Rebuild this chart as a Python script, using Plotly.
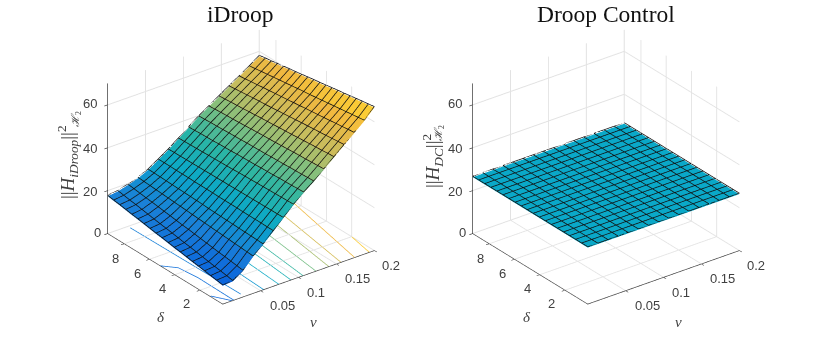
import plotly.graph_objects as go

nu_vals = [0.0, 0.0133, 0.0267, 0.04, 0.0533, 0.0667, 0.08, 0.0933, 0.1067, 0.12, 0.1333, 0.1467, 0.16, 0.1733, 0.1867, 0.2]
delta_vals = [0.2, 0.68, 1.16, 1.64, 2.12, 2.6, 3.08, 3.56, 4.04, 4.52, 5.0, 5.48, 5.96, 6.44, 6.92, 7.4, 7.88, 8.36, 8.84, 9.32]

# one row per delta, one column per nu
h_idroop = [
    [8.5, 8.9, 12.0, 17.0, 21.0, 25.5, 30.0, 34.5, 38.5, 42.0, 46.0, 50.0, 54.0, 58.0, 62.0, 66.7],
    [9.0, 9.4, 12.4, 17.2, 21.1, 25.5, 29.9, 34.4, 38.4, 41.9, 45.8, 49.8, 53.7, 57.7, 61.6, 66.2],
    [9.4, 9.9, 12.8, 17.4, 21.2, 25.6, 29.9, 34.3, 38.2, 41.7, 45.6, 49.5, 53.4, 57.3, 61.2, 65.8],
    [9.9, 10.3, 13.2, 17.6, 21.3, 25.6, 29.8, 34.2, 38.1, 41.6, 45.4, 49.3, 53.1, 57.0, 60.8, 65.3],
    [10.4, 10.8, 13.5, 17.8, 21.4, 25.6, 29.8, 34.1, 38.0, 41.5, 45.3, 49.1, 52.8, 56.6, 60.4, 64.8],
    [10.8, 11.3, 13.9, 18.0, 21.5, 25.6, 29.7, 34.0, 37.8, 41.3, 45.1, 48.8, 52.6, 56.3, 60.0, 64.3],
    [11.3, 11.8, 14.3, 18.2, 21.6, 25.7, 29.7, 33.9, 37.7, 41.2, 44.9, 48.6, 52.3, 55.9, 59.6, 63.9],
    [11.8, 12.3, 14.7, 18.4, 21.7, 25.7, 29.6, 33.8, 37.6, 41.1, 44.7, 48.3, 52.0, 55.6, 59.2, 63.4],
    [12.2, 12.7, 15.1, 18.6, 21.8, 25.7, 29.6, 33.7, 37.4, 40.9, 44.5, 48.1, 51.7, 55.3, 58.8, 62.9],
    [12.7, 13.2, 15.5, 18.8, 21.9, 25.7, 29.5, 33.6, 37.3, 40.8, 44.3, 47.9, 51.4, 54.9, 58.4, 62.4],
    [13.2, 13.7, 15.8, 19.0, 22.1, 25.8, 29.5, 33.4, 37.2, 40.7, 44.2, 47.6, 51.1, 54.6, 58.1, 62.0],
    [13.6, 14.2, 16.2, 19.2, 22.2, 25.8, 29.4, 33.3, 37.1, 40.6, 44.0, 47.4, 50.8, 54.2, 57.7, 61.5],
    [14.1, 14.6, 16.6, 19.4, 22.3, 25.8, 29.4, 33.2, 36.9, 40.4, 43.8, 47.2, 50.5, 53.9, 57.3, 61.0],
    [14.6, 15.1, 17.0, 19.6, 22.4, 25.8, 29.3, 33.1, 36.8, 40.3, 43.6, 46.9, 50.2, 53.6, 56.9, 60.5],
    [15.1, 15.6, 17.4, 19.8, 22.5, 25.9, 29.3, 33.0, 36.7, 40.2, 43.4, 46.7, 50.0, 53.2, 56.5, 60.1],
    [15.5, 16.1, 17.8, 20.0, 22.6, 25.9, 29.2, 32.9, 36.5, 40.0, 43.2, 46.4, 49.7, 52.9, 56.1, 59.6],
    [16.0, 16.6, 18.1, 20.2, 22.7, 25.9, 29.2, 32.8, 36.4, 39.9, 43.1, 46.2, 49.4, 52.5, 55.7, 59.1],
    [16.5, 17.0, 18.5, 20.4, 22.8, 26.0, 29.1, 32.7, 36.3, 39.8, 42.9, 46.0, 49.1, 52.2, 55.3, 58.6],
    [16.9, 17.5, 18.9, 20.6, 22.9, 26.0, 29.1, 32.6, 36.1, 39.6, 42.7, 45.7, 48.8, 51.8, 54.9, 58.2],
    [17.4, 18.0, 19.3, 20.8, 23.0, 26.0, 29.0, 32.5, 36.0, 39.5, 42.5, 45.5, 48.5, 51.5, 54.5, 57.7],
]
h_dc_level = 26.3

# floor contours of the iDroop surface
contour_levels = [9.5, 12, 17, 22, 27, 31, 36, 42, 47, 53, 58, 64]
contour_nu = [
    [0.001, 0.0126],
    [0.0, 0.0124, 0.0154, 0.0146],
    [0.0268, 0.0288],
    [0.062, 0.054],
    [0.086, 0.074],
    [0.106, 0.09],
    [0.124, 0.106],
    [0.144, 0.123],
    [0.165, 0.14],
    [0.183, 0.156],
    [0.2, 0.174],
    [0.2, 0.1934],
]
contour_delta = [
    [1.21, 0.2],
    [5.15, 4.47, 3.05, 0.2],
    [9.14, 0.5],
    [9.32, 0.2],
    [9.32, 0.2],
    [9.32, 0.2],
    [9.32, 0.2],
    [9.32, 0.2],
    [9.32, 0.2],
    [9.32, 0.2],
    [7.13, 0.2],
    [2.02, 0.2],
]

nu_ticks = [0.05, 0.1, 0.15, 0.2]
nu_labels = ["0.05", "0.1", "0.15", "0.2"]
delta_ticks = [2, 4, 6, 8]
delta_labels = ["2", "4", "6", "8"]
z_ticks = [0, 20, 40, 60]
z_labels = ["0", "20", "40", "60"]

parula = [
    [0.0, "#352a87"], [0.12, "#0a64dc"], [0.24, "#1a80d8"], [0.376, "#0aa8c8"],
    [0.5, "#2ab5a5"], [0.614, "#7fbf7f"], [0.714, "#c4bd60"], [0.83, "#f0b840"],
    [0.95, "#ffd530"], [1.0, "#f9fb15"],
]

GRID = "#e2e2e2"
AXIS = "#404040"
EDGE_LIFT = 0.45  # keeps the black edges from z-fighting with the faces


def add_surface(fig, z, scene_id):
    # matlab surf look: one flat colour per cell, black edges
    nx, ny = len(nu_vals), len(delta_vals)
    xs, ys, zs = [], [], []
    for r in range(ny):
        for c in range(nx):
            xs.append(nu_vals[c])
            ys.append(delta_vals[r])
            zs.append(z[r][c])
    ii, jj, kk, cell = [], [], [], []
    for r in range(ny - 1):
        for c in range(nx - 1):
            p = r * nx + c
            v = (z[r][c] + z[r][c + 1] + z[r + 1][c] + z[r + 1][c + 1]) / 4
            ii += [p, p]
            jj += [p + 1, p + nx + 1]
            kk += [p + nx + 1, p + nx]
            cell += [v, v]
    fig.add_trace(go.Mesh3d(
        x=xs, y=ys, z=zs, i=ii, j=jj, k=kk, intensity=cell, intensitymode="cell",
        colorscale=parula, cmin=0, cmax=70, showscale=False, hoverinfo="skip", scene=scene_id,
        lighting=dict(ambient=1, diffuse=0, specular=0, roughness=1, fresnel=0),
    ))
    # edges
    ex, ey, ez = [], [], []
    for r in range(ny):
        ex += nu_vals + [None]
        ey += [delta_vals[r]] * nx + [None]
        ez += [v + EDGE_LIFT for v in z[r]] + [None]
    for c in range(nx):
        ex += [nu_vals[c]] * ny + [None]
        ey += delta_vals + [None]
        ez += [z[r][c] + EDGE_LIFT for r in range(ny)] + [None]
    fig.add_trace(go.Scatter3d(
        x=ex, y=ey, z=ez, mode="lines", line=dict(color="#111111", width=1.5),
        hoverinfo="skip", showlegend=False, scene=scene_id,
    ))


def axis(rng, ticks):
    # labels are annotations below: gl3d tick labels cannot be offset
    return dict(
        range=rng, tickmode="array", tickvals=ticks, showticklabels=False,
        title=dict(text=""), showbackground=False, showspikes=False, zeroline=False,
        gridcolor=GRID, gridwidth=2, showline=True, linecolor=AXIS, linewidth=1.5,
        ticks="outside", ticklen=4, tickcolor=AXIS, tickwidth=1.5,
    )


def scene(x0, x1):
    return dict(
        domain=dict(x=[x0 / 830, x1 / 830], y=[15 / 342, 335 / 342]),
        xaxis=axis([0, 0.2], nu_ticks),
        yaxis=axis([0.2, 9.32], delta_ticks),
        zaxis=axis([0, 70], z_ticks),
        aspectmode="manual", aspectratio=dict(x=1.19, y=1.19, z=1.06),
        camera=dict(
            projection=dict(type="orthographic"),
            eye=dict(x=-1.07, y=-1.41, z=0.93),
            center=dict(x=0, y=0, z=0),
        ),
    )


fig = go.Figure()
add_surface(fig, h_idroop, "scene")
for level, nu, delta in zip(contour_levels, contour_nu, contour_delta):
    fig.add_trace(go.Scatter3d(
        x=nu, y=delta, z=[0] * len(nu), mode="lines", scene="scene",
        line=dict(color=[level] * len(nu), colorscale=parula, cmin=0, cmax=70, width=1.5),
        hoverinfo="skip", showlegend=False,
    ))
h_dc = [[h_dc_level] * len(nu_vals) for _ in delta_vals]
add_surface(fig, h_dc, "scene2")


def label(text, px, py, size, angle=0, family="Liberation Serif", color=AXIS):
    return dict(
        text=text, x=px / 830, y=1 - py / 342, xref="paper", yref="paper",
        showarrow=False, textangle=angle, xanchor="center", yanchor="middle",
        font=dict(family=family, size=size, color=color),
    )


annotations = [
    label("iDroop", 240, 14, 23.5, color="#111111"),
    label("Droop Control", 606, 14, 23.5, color="#111111"),
    label("<i>δ</i>", 161, 317, 15),
    label("<i>ν</i>", 313, 322, 15),
    label("<i>δ</i>", 527, 317, 15),
    label("<i>ν</i>", 678, 322, 15),
    label("||<i>H<sub>iDroop</sub></i>||<sup>2</sup>", 68, 162, 19, -90),
    label("||<i>H<sub>DC</sub></i>||<sup>2</sup>", 432, 161, 19, -90),
    label("<i>ℋ</i><sub>2</sub>", 76, 119, 11, -90),
    label("<i>ℋ</i><sub>2</sub>", 439, 133, 11, -90),
]

# tick label spots in the left panel; the right panel is the same, moved over
z_spots = [(97, 232), (90, 191), (90, 148), (90, 103)]
delta_spots = [(186, 303), (162, 288), (137, 273), (115, 258)]
nu_spots = [(282, 305), (316, 292), (357, 278), (391, 265)]
PANEL_SHIFT = 365

for shift in (0, PANEL_SHIFT):
    for labels, spots in ((z_labels, z_spots), (delta_labels, delta_spots), (nu_labels, nu_spots)):
        for text, (px, py) in zip(labels, spots):
            annotations.append(label(text, px + shift, py, 13, family="Liberation Sans"))

fig.update_layout(
    width=830, height=342, margin=dict(l=0, r=0, t=0, b=0),
    paper_bgcolor="white", showlegend=False,
    scene=scene(70.5, 410.5), scene2=scene(436, 776),
    annotations=annotations,
)

fig.write_html("out.html", config=dict(displayModeBar=False),
               post_script="document.body.style.margin='0';")
